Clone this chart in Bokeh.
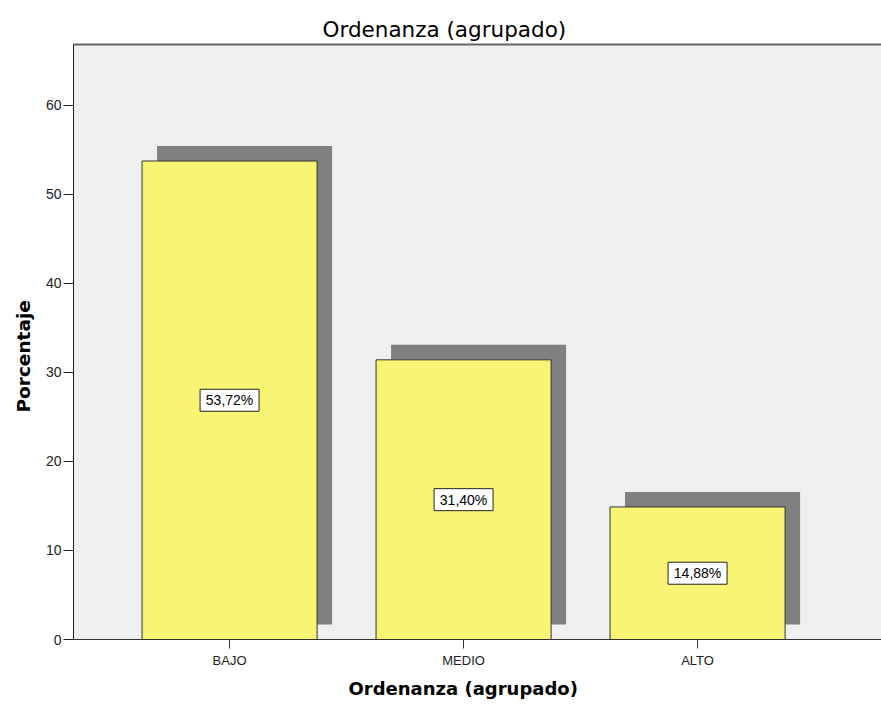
from bokeh.plotting import figure
from bokeh.models import (ColumnDataSource, LinearAxis, FixedTicker, Range1d, Title)
from bokeh.core.properties import value
from bokeh.embed import file_html
from bokeh.resources import INLINE

# ---- data ----
categories = ["BAJO", "MEDIO", "ALTO"]
percentages = [53.72, 31.40, 14.88]
y_ticks = [0, 10, 20, 30, 40, 50, 60]
title_text = "Ordenanza (agrupado)"
x_label_text = "Ordenanza (agrupado)"
y_label_text = "Porcentaje"

# ---- layout constants ----
W, H = 881, 705
ML, MT, MB, MR = 73, 44, 66, 0
frame_w = W - ML - MR
frame_h = H - MT - MB
x_start, x_end = 0.333, 3.786
y_start, y_end = 0.0, 66.8
px_x = frame_w / (x_end - x_start)   # pixels per x unit
px_y = frame_h / (y_end - y_start)   # pixels per y unit
shadow_px = 15
bar_w = 0.748

xs = [i + 1 for i in range(len(categories))]
labels = [("%.2f%%" % v).replace(".", ",") for v in percentages]

src = ColumnDataSource(dict(
    x=xs,
    top=percentages,
    sx=[x + shadow_px / px_x for x in xs],
    stop=[v + shadow_px / px_y for v in percentages],
    sbottom=[shadow_px / px_y for _ in percentages],
    mid=[v / 2 for v in percentages],
    lab=labels,
))

p = figure(width=W, height=H, output_backend="svg", toolbar_location=None,
           x_range=Range1d(x_start, x_end), y_range=Range1d(y_start, y_end),
           min_border_left=ML, min_border_top=MT, min_border_bottom=MB,
           min_border_right=MR, x_axis_type=None, y_axis_type=None)
p.background_fill_color = "#efefef"
p.border_fill_color = "white"
p.outline_line_color = None
p.xgrid.visible = False
p.ygrid.visible = False

# title
p.title.text = title_text
p.title.align = "left"
p.title.offset = 249
p.title.standoff = 6
p.title.text_font = "DejaVu Sans"
p.title.text_font_style = "normal"
p.title.text_font_size = "21.5px"
p.title.text_color = "black"

# shadows
p.vbar(x="sx", top="stop", bottom="sbottom", width=bar_w, source=src,
       fill_color="#808080", line_color=None)
# bars
p.vbar(x="x", top="top", bottom=0, width=bar_w, source=src,
       fill_color="#f9f574", line_color="#333333", line_width=1)

# value label boxes + text
p.rect(x="x", y="mid", width=59, height=22, width_units="screen",
       height_units="screen", source=src, fill_color="white",
       line_color="#222222", line_width=1)
p.text(x="x", y="mid", text="lab", source=src, text_align="center",
       text_baseline="middle", text_font=value("Liberation Sans"),
       text_font_size="14px", text_color="black")

# axes
yax = LinearAxis(ticker=FixedTicker(ticks=y_ticks))
yax.axis_line_color = "#222222"
yax.major_tick_line_color = "#222222"
yax.major_tick_out = 10
yax.major_tick_in = 0
yax.minor_tick_line_color = None
yax.major_label_standoff = 2
yax.major_label_text_font = "Liberation Sans"
yax.major_label_text_font_size = "14px"
yax.major_label_text_color = "#222222"
p.add_layout(yax, "left")

xax = LinearAxis(ticker=FixedTicker(ticks=xs))
xax.major_label_overrides = {x: c for x, c in zip(xs, categories)}
xax.axis_line_color = "#333333"
xax.major_tick_line_color = "#333333"
xax.major_tick_out = 9
xax.major_tick_in = 0
xax.minor_tick_line_color = None
xax.major_label_standoff = 4
xax.major_label_text_font = "Liberation Sans"
xax.major_label_text_font_size = "13px"
xax.major_label_text_color = "#222222"
p.add_layout(xax, "below")

top_ax = LinearAxis(ticker=FixedTicker(ticks=[]))
top_ax.axis_line_color = "#666666"
top_ax.axis_line_width = 2
top_ax.major_tick_line_color = None
top_ax.minor_tick_line_color = None
top_ax.major_label_text_font_size = "0px"
top_ax.major_label_standoff = 0
p.add_layout(top_ax, "above")

# axis titles as side titles (allows exact placement)
xtitle = Title(text=x_label_text, align="left", offset=275, standoff=10,
               text_font="DejaVu Sans", text_font_style="bold",
               text_font_size="18px", text_color="black")
p.add_layout(xtitle, "below")
ytitle = Title(text=y_label_text, align="left", offset=227, standoff=18,
               text_font="DejaVu Sans", text_font_style="bold",
               text_font_size="18.5px", text_color="black")
p.add_layout(ytitle, "left")

open("out.html", "w").write(file_html(p, INLINE))
